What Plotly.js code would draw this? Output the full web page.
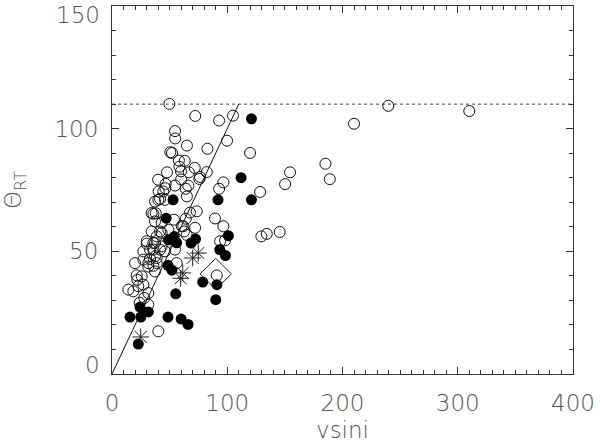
<!DOCTYPE html>
<html>
<head>
<meta charset="utf-8">
<script src="https://cdn.plot.ly/plotly-3.0.1.min.js"></script>
<style>
  html, body { margin: 0; padding: 0; background: #fff; }
  #chart { width: 600px; height: 443px; }
</style>
</head>
<body>
<div id="chart"></div>
<script>
// ==================================================
// Data
// ==================================================

const openVsini = [
  49.8, 72.2, 92.9, 105, 54.7, 54.8, 65, 82.8, 99.8, 119.8,
  50.6, 52.1, 58, 58.5, 63.1, 47.7, 59.9, 66.7, 71.8, 82.2,
  76.4, 40, 60, 75.8, 46.5, 46.3, 64, 96.6, 92.9, 65,
  40.5, 41.7, 73.5, 64, 89.4, 96.6, 35.9, 38, 53.8, 61.9,
  128.5, 154.5, 150.2, 129.6, 134.3, 145.5, 185.2, 189, 210, 239.7,
  310, 93.8, 98.1, 90.9,
  44.5, 40.2, 46, 37.3, 34.4, 43.1, 37.3, 34.4, 41.7, 48.9,
  30.1, 37.3, 43.1, 33, 27.2, 37.3, 46, 31.5, 38.8, 27.2,
  66.2, 54.7, 67.7, 60.5, 72.1, 64.8,
  14.2, 18.5, 22.8, 27.2, 31.5, 31.5, 21.4, 25.8, 22, 20,
  31.5, 35.9, 37.3, 33, 38.8, 41.7, 35.9, 30.1, 35.9, 38.8,
  43.1, 54.7, 56.1, 62.5, 40.2, 24, 28
];
const openTheta = [
  110.1, 105.2, 103.3, 105.3, 99, 96, 93.1, 91.8, 95.1, 90.1,
  90.4, 90.1, 87, 84.5, 86.9, 82.2, 82.6, 82.2, 84, 82.3,
  80.3, 79.2, 79.3, 79.5, 77.5, 75.7, 75.5, 78.1, 75.5, 72.4,
  74.4, 71.4, 66.3, 63.3, 63.4, 60.2, 65.3, 65.5, 62.9, 60.2,
  74.2, 82.2, 77.4, 56.1, 57.1, 57.9, 85.7, 79.4, 102, 109.3,
  107.2, 54.1, 54.5, 40.2,
  74.4, 71, 71, 70.3, 65.6, 61.6, 62.2, 58.1, 58.1, 58.8,
  54.1, 53.4, 52, 50.7, 50, 48, 50, 45.2, 45.2, 46.6,
  76.8, 76.8, 65.8, 60.3, 59.6, 56.7,
  34.4, 33.7, 35.8, 36.4, 33, 28.3, 40.2, 39.8, 38.4, 45.2,
  43.8, 44.1, 41.8, 46.9, 47.3, 50.7, 50.7, 53.1, 53.4, 56.1,
  57.5, 50.7, 45.2, 58.1, 17.4, 29, 31
];

const filledVsini = [
  121, 112, 92, 121, 53, 47, 54, 56, 49, 72.5,
  68.6, 101, 93.5, 98.4, 48.6, 52, 78.7, 91, 55.3, 90,
  24.3, 15.6, 25, 31.5, 48.6, 60, 66, 22.8
];
const filledTheta = [
  104, 80, 71, 71, 71, 63.5, 56, 53.5, 54.7, 55,
  53.4, 56.4, 50.7, 48.3, 44.3, 42.3, 37.5, 36.4, 32.7, 30.3,
  27.3, 23.2, 23.2, 25.3, 23.2, 22.4, 20.2, 12.2
];

const starVsini = [74.9, 70, 61.4, 59.6, 24.9];
const starTheta = [49.3, 47.3, 41.2, 39, 15.1];

const diamondVsini = [90];
const diamondTheta = [40.8];

// reference lines
const limitTheta = 110;
const limitVsini = [0, 400];
const equalityVsini = [0, 110];

// axis ticks
const xTickVals = [0, 100, 200, 300, 400];
const yTickVals = [0, 50, 100, 150];

// ==================================================
// Chart
// ==================================================

function renderChart() {
  const tickFont = { family: "DejaVu Sans", size: 23, color: "#555", weight: 200 };
  const axisColor = "#333";
  const yMin = yTickVals[0];
  const yMax = yTickVals[yTickVals.length - 1];

  const traces = [
    {
      type: "scatter", mode: "lines",
      x: limitVsini, y: [limitTheta, limitTheta],
      line: { color: "#444", width: 1, dash: "dot" },
      hoverinfo: "skip",
    },
    {
      type: "scatter", mode: "lines",
      x: equalityVsini, y: equalityVsini,
      line: { color: "#111", width: 1 },
      hoverinfo: "skip",
    },
    {
      type: "scatter", mode: "markers",
      x: openVsini, y: openTheta,
      marker: { symbol: "circle-open", size: 11, color: "#111", line: { width: 1 } },
    },
    {
      type: "scatter", mode: "markers",
      x: filledVsini, y: filledTheta,
      marker: { symbol: "circle", size: 11, color: "#000" },
    },
    {
      type: "scatter", mode: "markers",
      x: starVsini, y: starTheta,
      marker: { symbol: "asterisk-open", size: 14, color: "#222", line: { width: 1 } },
    },
    {
      type: "scatter", mode: "markers",
      x: diamondVsini, y: diamondTheta,
      marker: { symbol: "diamond-open", size: 24, color: "#222", line: { width: 1 } },
    },
  ];

  // end labels of the y axis are kept inside the frame, so draw them as annotations
  const endLabels = [yMin, yMax].map(v => ({
    xref: "paper", yref: "y",
    x: 0, y: v,
    text: String(v),
    showarrow: false,
    xanchor: "right",
    xshift: -10,
    yshift: v === yMin ? 9 : -9,
    font: tickFont,
  }));

  const axisBase = {
    showgrid: false,
    zeroline: false,
    showline: true,
    linecolor: axisColor,
    linewidth: 1,
    mirror: "ticks",
    ticks: "inside",
    ticklen: 7,
    tickcolor: axisColor,
    tickfont: tickFont,
  };

  const layout = {
    width: 600,
    height: 443,
    margin: { l: 112, r: 27, t: 6, b: 69 },
    paper_bgcolor: "#fff",
    plot_bgcolor: "#fff",
    showlegend: false,
    annotations: endLabels,
    xaxis: Object.assign({}, axisBase, {
      range: [xTickVals[0], xTickVals[xTickVals.length - 1]],
      tickvals: xTickVals,
      ticklabelstandoff: 8,
      minor: { dtick: 10, ticks: "inside", ticklen: 4, tickcolor: axisColor },
      title: { text: "vsini", font: tickFont, standoff: 10 },
    }),
    yaxis: Object.assign({}, axisBase, {
      range: [yMin, yMax],
      tickvals: yTickVals.filter(v => v !== yMin && v !== yMax),
      ticklabelstandoff: 8,
      minor: { dtick: 10, ticks: "inside", ticklen: 4, tickcolor: axisColor },
      title: { text: "Θ<sub>RT</sub>", font: tickFont, standoff: 30 },
    }),
  };

  Plotly.newPlot("chart", traces, layout, { displayModeBar: false, staticPlot: true });
}

renderChart();
</script>
</body>
</html>
